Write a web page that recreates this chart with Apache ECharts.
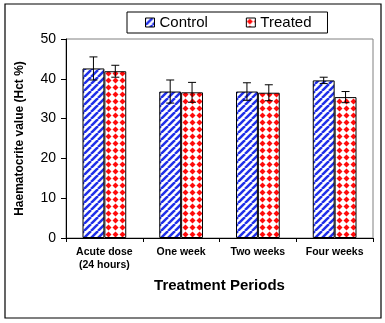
<!DOCTYPE html>
<html><head><meta charset="utf-8">
<script src="https://cdn.jsdelivr.net/npm/echarts@6/dist/echarts.min.js"></script>
<style>html,body{margin:0;padding:0;background:#fff}#c{width:385px;height:323px}</style>
</head><body><div id="c"></div>
<script>
const categories = ['Acute dose\n(24 hours)', 'One week', 'Two weeks', 'Four weeks'];
const controlValues = [42.6, 36.8, 36.8, 39.6];
const controlErrors = [2.9, 2.9, 2.2, 0.8];
const treatedValues = [41.9, 36.6, 36.5, 35.4];
const treatedErrors = [1.5, 2.5, 2.0, 1.4];
const yTicks = [0, 10, 20, 30, 40, 50];

function stripePattern() {
  const s = 7;
  const c = document.createElement('canvas');
  c.width = s; c.height = s;
  const g = c.getContext('2d');
  g.fillStyle = '#fff'; g.fillRect(0, 0, s, s);
  g.strokeStyle = '#1f2fe8'; g.lineWidth = 2.5;
  for (let k = -s; k <= 2 * s; k += s) {
    g.beginPath(); g.moveTo(k, s); g.lineTo(k + s, 0); g.stroke();
  }
  return c;
}
function diamondPattern() {
  const s = 7;
  const c = document.createElement('canvas');
  c.width = s; c.height = s;
  const g = c.getContext('2d');
  g.fillStyle = '#fff'; g.fillRect(0, 0, s, s);
  g.fillStyle = '#ff0a0a';
  const m = s / 2, r = 3;
  g.beginPath(); g.moveTo(m, m - r); g.lineTo(m + r, m); g.lineTo(m, m + r); g.lineTo(m - r, m); g.closePath(); g.fill();
  return c;
}
const stripe = { image: stripePattern(), repeat: 'repeat' };
const diamond = { image: diamondPattern(), repeat: 'repeat' };

const chart = echarts.init(document.getElementById('c'));
const gap = 0.43;
function errRender(values, errs, side) {
  return function (params, api) {
    const i = api.value(0);
    const v = values[i], e = errs[i];
    const catW = api.size([1, 0])[0];
    const barW = catW * (1 - gap) / 2;
    const center = api.coord([i, v]);
    const x = center[0] + side * barW / 2;
    const top = api.coord([i, v + e])[1];
    const bot = api.coord([i, v - e])[1];
    const cap = 4;
    const st = { stroke: '#000', lineWidth: 1 };
    return { type: 'group', children: [
      { type: 'line', shape: { x1: x, y1: top, x2: x, y2: bot }, style: st },
      { type: 'line', shape: { x1: x - cap, y1: top, x2: x + cap, y2: top }, style: st },
      { type: 'line', shape: { x1: x - cap, y1: bot, x2: x + cap, y2: bot }, style: st }
    ]};
  };
}
chart.setOption({
  animation: false,
  textStyle: { fontFamily: 'Liberation Sans, Arial, sans-serif' },
  graphic: [{ type: 'rect', shape: { x: 5, y: 4, width: 376, height: 314 }, style: { fill: 'none', stroke: '#000', lineWidth: 1.2 }, silent: true }],
  legend: {
    top: 12, left: 127, width: 200,
    padding: [3, 16, 3, 18],
    itemGap: 38,
    itemWidth: 9, itemHeight: 9,
    borderColor: '#000', borderWidth: 1,
    textStyle: { fontSize: 15, color: '#000' },
    data: [
      { name: 'Control', icon: 'rect', itemStyle: { color: stripe, borderColor: '#000', borderWidth: 1 } },
      { name: 'Treated', icon: 'rect', itemStyle: { color: diamond, borderColor: '#000', borderWidth: 1 } }
    ]
  },
  grid: { left: 66, right: 12, top: 39, bottom: 85, show: true, borderColor: '#808080', borderWidth: 1, backgroundColor: 'transparent' },
  xAxis: {
    type: 'category', data: categories,
    name: 'Treatment Periods', nameLocation: 'middle', nameGap: 40,
    nameTextStyle: { fontSize: 15, fontWeight: 'bold', color: '#000' },
    axisLine: { lineStyle: { color: '#000' } },
    axisTick: { show: true, length: 4, lineStyle: { color: '#000' } },
    axisLabel: { fontSize: 10.5, fontWeight: 'bold', color: '#000', margin: 8, interval: 0, lineHeight: 13 }
  },
  yAxis: {
    type: 'value', min: yTicks[0], max: yTicks[yTicks.length - 1], interval: 10,
    name: 'Haematocrite value (Hct %)', nameLocation: 'middle', nameGap: 40,
    nameTextStyle: { fontSize: 12, fontWeight: 'bold', color: '#000' },
    axisLine: { show: true, lineStyle: { color: '#000' } },
    axisTick: { show: true, length: 5, lineStyle: { color: '#000' } },
    splitLine: { show: false },
    axisLabel: { fontSize: 14, color: '#000', margin: 10 }
  },
  series: [
    { name: 'Control', type: 'bar', data: controlValues, barGap: '0%', barCategoryGap: (gap * 100) + '%',
      itemStyle: { color: stripe, borderColor: '#000', borderWidth: 1 } },
    { name: 'Treated', type: 'bar', data: treatedValues,
      itemStyle: { color: diamond, borderColor: '#000', borderWidth: 1 } },
    { type: 'custom', renderItem: errRender(controlValues, controlErrors, -1), data: controlValues.map((v, i) => [i, v]), z: 5 },
    { type: 'custom', renderItem: errRender(treatedValues, treatedErrors, 1), data: treatedValues.map((v, i) => [i, v]), z: 5 }
  ]
});
</script></body></html>
